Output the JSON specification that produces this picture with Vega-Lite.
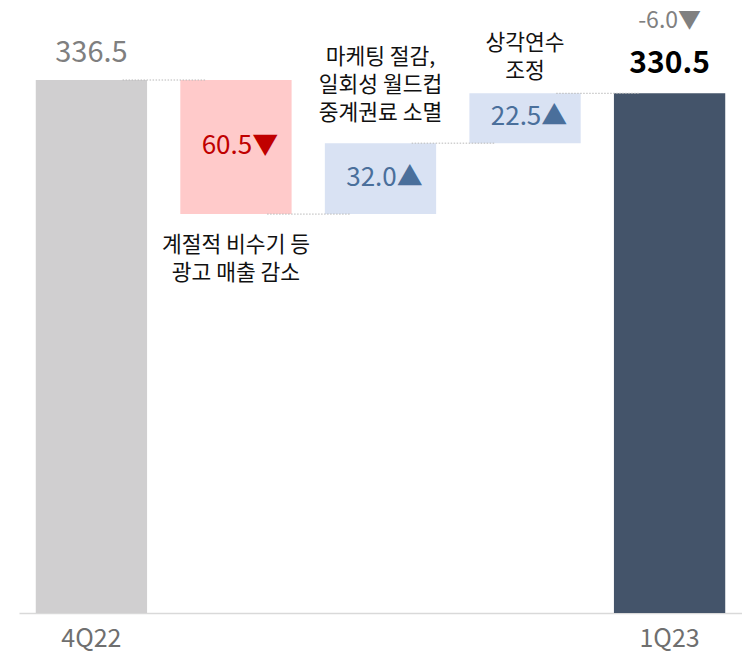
{
  "$schema": "https://vega.github.io/schema/vega-lite/v6.json",
  "width": 723,
  "height": 613,
  "autosize": {"type": "none"},
  "padding": {"left": 19, "top": 0, "right": 0, "bottom": 51},
  "background": "white",
  "config": {"view": {"stroke": null}, "font": "Noto Sans CJK KR"},
  "datasets": {
    "bars": [
      {"cat": "4Q22", "start": 0, "end": 336.5, "kind": "base", "label": "336.5"},
      {"cat": "광고", "start": 336.5, "end": 276.0, "kind": "dec", "label": "60.5▼", "note": "계절적 비수기 등\n광고 매출 감소"},
      {"cat": "마케팅", "start": 276.0, "end": 308.0, "kind": "inc", "label": "32.0▲", "note": "마케팅 절감,\n일회성 월드컵\n중계권료 소멸"},
      {"cat": "상각", "start": 308.0, "end": 330.5, "kind": "inc", "label": "22.5▲", "note": "상각연수\n조정"},
      {"cat": "1Q23", "start": 0, "end": 330.5, "kind": "total", "label": "330.5", "note": "-6.0▼"}
    ],
    "links": [
      {"from": "4Q22", "to": "광고", "level": 336.5},
      {"from": "광고", "to": "마케팅", "level": 276.0},
      {"from": "마케팅", "to": "상각", "level": 308.0},
      {"from": "상각", "to": "1Q23", "level": 330.5}
    ]
  },
  "layer": [
    {
      "data": {"name": "bars"},
      "mark": {"type": "bar", "clip": true},
      "encoding": {
        "x": {"field": "cat", "type": "nominal", "sort": null,
          "scale": {"domain": ["4Q22", "광고", "마케팅", "상각", "1Q23"], "paddingInner": 0.23, "paddingOuter": 0.116},
          "axis": {"title": null, "labelExpr": "datum.value == '4Q22' || datum.value == '1Q23' ? datum.value : ''",
            "labelAngle": 0, "labelFontSize": 25, "labelColor": "#6f6f6f", "labelPadding": 13,
            "ticks": false, "domainColor": "#d9d9d9", "domainWidth": 1.5, "grid": false}},
        "y": {"field": "start", "type": "quantitative", "scale": {"domain": [96, 372.6], "nice": false, "zero": false}, "axis": null},
        "y2": {"field": "end"},
        "color": {"field": "kind", "type": "nominal", "legend": null,
          "scale": {"domain": ["base", "dec", "inc", "total"], "range": ["#d0cfd0", "#ffcaca", "#d9e2f3", "#44546a"]}}
      }
    },
    {
      "data": {"name": "links"},
      "mark": {"type": "rule", "color": "#b8b8b8", "strokeDash": [1.5, 1.5], "strokeWidth": 1},
      "encoding": {
        "x": {"field": "from", "type": "nominal", "bandPosition": 0.78},
        "x2": {"field": "to", "bandPosition": 0.23},
        "y": {"field": "level", "type": "quantitative"}
      }
    },
    {
      "data": {"name": "bars"},
      "transform": [{"filter": "datum.cat == '4Q22'"}],
      "mark": {"type": "text", "dy": -27, "fontSize": 29, "color": "#7f7f7f", "baseline": "middle"},
      "encoding": {
        "x": {"field": "cat", "type": "nominal"},
        "y": {"field": "end", "type": "quantitative"},
        "text": {"field": "label"}
      }
    },
    {
      "data": {"name": "bars"},
      "transform": [{"filter": "datum.kind == 'dec' || datum.kind == 'inc'"}, {"calculate": "(datum.start + datum.end) / 2", "as": "mid"}],
      "mark": {"type": "text", "fontSize": 26, "baseline": "middle", "dx": 4, "dy": -1},
      "encoding": {
        "x": {"field": "cat", "type": "nominal"},
        "y": {"field": "mid", "type": "quantitative"},
        "text": {"field": "label"},
        "color": {"condition": {"test": "datum.kind == 'dec'", "value": "#c00000"}, "value": "#4a6f9b"}
      }
    },
    {
      "data": {"name": "bars"},
      "transform": [{"filter": "datum.cat == '1Q23'"}],
      "mark": {"type": "text", "dy": -29, "fontSize": 30, "fontWeight": "bold", "color": "#000000", "baseline": "middle"},
      "encoding": {
        "x": {"field": "cat", "type": "nominal"},
        "y": {"field": "end", "type": "quantitative"},
        "text": {"field": "label"}
      }
    },
    {
      "data": {"name": "bars"},
      "transform": [{"filter": "datum.cat == '1Q23'"}],
      "mark": {"type": "text", "dy": -72, "fontSize": 23, "color": "#808080", "baseline": "middle"},
      "encoding": {
        "x": {"field": "cat", "type": "nominal"},
        "y": {"field": "end", "type": "quantitative"},
        "text": {"field": "note"}
      }
    },
    {
      "data": {"name": "bars"},
      "transform": [{"filter": "datum.cat == '광고'"}],
      "mark": {"type": "text", "dy": 32, "fontSize": 21.5, "color": "#111111", "baseline": "middle", "lineBreak": "\n", "lineHeight": 28},
      "encoding": {
        "x": {"field": "cat", "type": "nominal"},
        "y": {"field": "end", "type": "quantitative"},
        "text": {"field": "note"}
      }
    },
    {
      "data": {"name": "bars"},
      "transform": [{"filter": "datum.cat == '마케팅'"}],
      "mark": {"type": "text", "dy": -85, "fontSize": 21.5, "color": "#111111", "baseline": "middle", "lineBreak": "\n", "lineHeight": 28},
      "encoding": {
        "x": {"field": "cat", "type": "nominal"},
        "y": {"field": "end", "type": "quantitative"},
        "text": {"field": "note"}
      }
    },
    {
      "data": {"name": "bars"},
      "transform": [{"filter": "datum.cat == '상각'"}],
      "mark": {"type": "text", "dy": -49, "fontSize": 21.5, "color": "#111111", "baseline": "middle", "lineBreak": "\n", "lineHeight": 28},
      "encoding": {
        "x": {"field": "cat", "type": "nominal"},
        "y": {"field": "end", "type": "quantitative"},
        "text": {"field": "note"}
      }
    }
  ]
}
